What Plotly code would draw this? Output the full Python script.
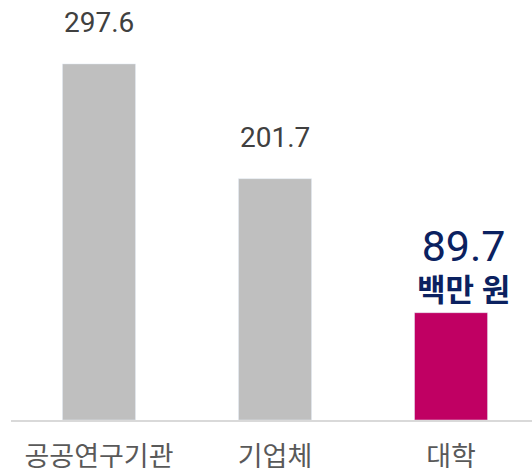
import plotly.graph_objects as go

categories = ["공공연구기관", "기업체", "대학"]
values = [297.6, 201.7, 89.7]
value_labels = ["297.6", "201.7", "89.7"]
unit_label = "백만 원"

bar_colors = ["#bfbfbf", "#bfbfbf", "#c00063"]

fig = go.Figure()
fig.add_trace(go.Bar(
    x=categories, y=values, marker_color=bar_colors, width=0.415,
    hoverinfo="skip",
))

for i, (c, v, t) in enumerate(zip(categories, values, value_labels)):
    if i < 2:
        fig.add_annotation(x=c, y=v, text=t, showarrow=False, yanchor="bottom",
                           yshift=23, font=dict(family="Roboto", size=28, color="#404040"))
    else:
        fig.add_annotation(
            x=c, y=v, showarrow=False, yanchor="bottom", yshift=2, xshift=12,
            text="<span style='font-size:43px;font-weight:normal'>" + t + "</span><br><b>" + unit_label + "</b>",
            font=dict(family="Roboto, Noto Sans CJK KR", size=31, color="#0b2160"),
        )

fig.update_layout(
    width=532, height=468,
    margin=dict(l=11, r=0, t=0, b=48, autoexpand=False),
    plot_bgcolor="white", paper_bgcolor="white",
    showlegend=False,
    xaxis=dict(
        range=[-0.5, 2.46], showline=True, linecolor="#d9d9d9", linewidth=2,
        showgrid=False, ticks="", ticklabelstandoff=12, automargin=False,
        tickfont=dict(family="Noto Sans CJK KR", size=27, color="#595959"),
    ),
    yaxis=dict(range=[0, 351], visible=False, automargin=False),
)

fig.write_html("out.html", config={"displayModeBar": False},
               post_script="document.body.style.margin='0';document.body.style.overflow='hidden';")
